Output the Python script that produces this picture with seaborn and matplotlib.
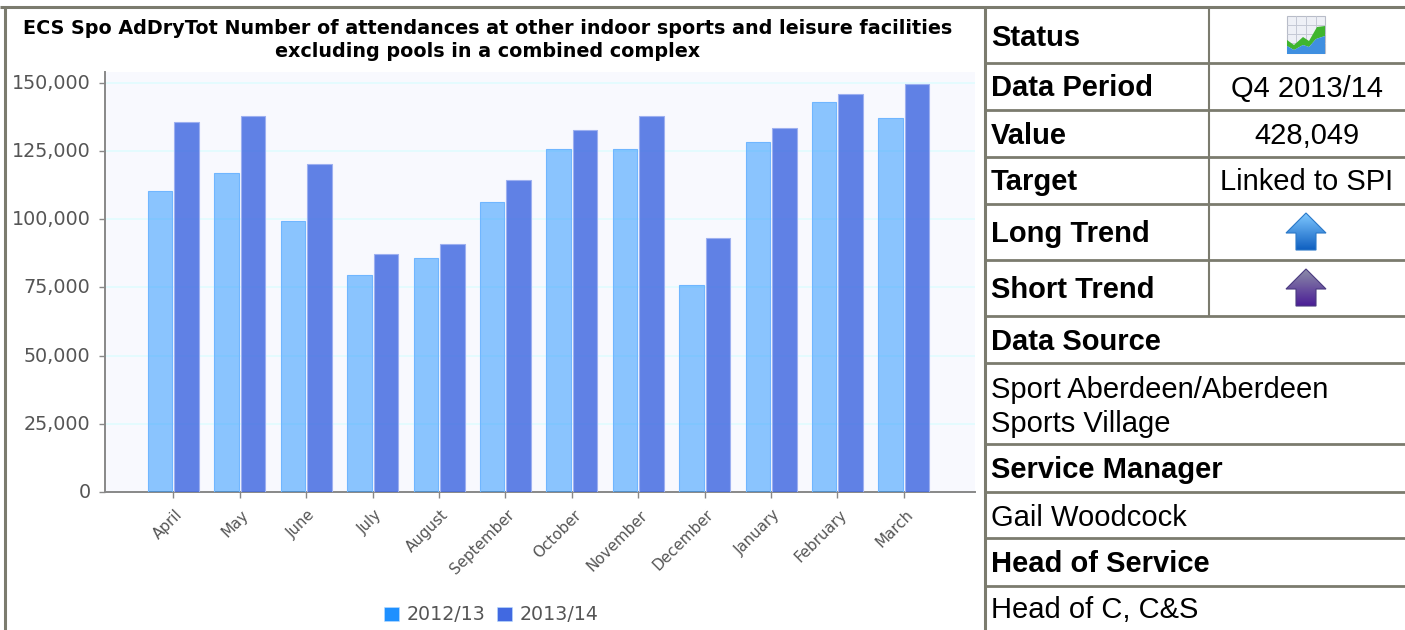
import matplotlib
matplotlib.use("Agg")
import matplotlib.pyplot as plt
from matplotlib.patches import Patch, Polygon, Rectangle
from matplotlib.transforms import ScaledTranslation
import numpy as np
import pandas as pd
import seaborn as sns

months = ["April", "May", "June", "July", "August", "September", "October",
          "November", "December", "January", "February", "March"]
values_2012 = [110500, 116800, 99200, 79600, 85800, 106400, 125900, 125900, 76000, 128200, 142900, 137000]
values_2013 = [135500, 137900, 120300, 87300, 90900, 114500, 132700, 137900, 93000, 133300, 145900, 149600]
series_names = ["2012/13", "2013/14"]
title = ("ECS Spo AdDryTot Number of attendances at other indoor sports and leisure facilities\n"
         "excluding pools in a combined complex")
y_ticks = [0, 25000, 50000, 75000, 100000, 125000, 150000]

W, H = 1405, 630
BORDER = "#7b7b6e"
sns.set_theme(style="white")
plt.rcParams["font.family"] = ["DejaVu Sans"]

fig = plt.figure(figsize=(W / 100, H / 100), dpi=100, facecolor="white")
left, right, top, bottom = 104.5, 975, 72, 492
ax = fig.add_axes([left / W, 1 - bottom / H, (right - left) / W, (bottom - top) / H])

df = pd.DataFrame({
    "month": months * 2,
    "value": values_2012 + values_2013,
    "year": [series_names[0]] * 12 + [series_names[1]] * 12,
})
palette = {series_names[0]: "#1E90FF", series_names[1]: "#4169E1"}
sns.barplot(data=df, x="month", y="value", hue="year", palette=palette, order=months,
            width=0.8, gap=0.08, saturation=1, ax=ax, legend=False, errorbar=None, zorder=3)
for c in ax.patches:
    is_first = abs(c.get_facecolor()[0] - 0.1176) < 0.01
    c.set_facecolor(matplotlib.colors.to_rgba("#1E90FF", 0.5) if is_first
                    else matplotlib.colors.to_rgba("#4169E1", 0.83))
    c.set_edgecolor("#70B6FF" if is_first else "#9DB0F0")
    c.set_linewidth(0.8)

ax.set_facecolor("#F8F9FE")
ax.set_xlim(-1.038, 12.072)
ax.set_ylim(0, 154000)
ax.set_xlabel("")
ax.set_ylabel("")
ax.set_yticks(y_ticks)
ax.set_yticklabels([f"{v:,}" for v in y_ticks], color="#555555", fontsize=13.8)
ax.set_xticks(range(12))
ax.set_xticklabels(months, rotation=45, ha="right", rotation_mode="anchor",
                   color="#555555", fontsize=10.9)
ax.tick_params(axis="y", length=4, width=1, color="#888888", pad=6, left=True)
ax.tick_params(axis="x", length=4, width=1, color="#888888", pad=7, bottom=True)
x_shift = ScaledTranslation(1.5 / 100, 0, fig.dpi_scale_trans)
for lab in ax.get_xticklabels():
    lab.set_transform(lab.get_transform() + x_shift)
y_shift = ScaledTranslation(0, 1.5 / 100, fig.dpi_scale_trans)
for lab in ax.get_yticklabels():
    lab.set_transform(lab.get_transform() + y_shift)
ax.grid(axis="y", color="#E4FCFF", linewidth=1.4, zorder=0)
ax.set_axisbelow(True)
for s in ["top", "right"]:
    ax.spines[s].set_visible(False)
for s in ["left", "bottom"]:
    ax.spines[s].set_color("#888888")
    ax.spines[s].set_linewidth(1.4)

handles = [Patch(facecolor=palette[n], edgecolor="#BBDDFF", linewidth=0.4, label=n) for n in series_names]
fig.legend(handles=handles, loc="center", bbox_to_anchor=(491 / W, 1 - 615 / H), ncol=2, frameon=False,
           fontsize=13.7, labelcolor="#555555", handlelength=0.8, handleheight=0.8,
           handletextpad=0.38, columnspacing=0.62, borderpad=0)

fig.text(487.5 / W, 1 - 40 / H, title, ha="center", va="center", fontsize=13.8, fontweight="bold",
         color="black", linespacing=1.3)

# Side table drawn on a pixel-coordinate overlay
ov = fig.add_axes([0, 0, 1, 1], facecolor="none", zorder=5)
ov.set_xlim(0, W)
ov.set_ylim(H, 0)
ov.axis("off")

h_lines = [7, 62.5, 110, 157, 204, 260, 316, 363, 444, 492, 538, 586]
ov.plot([0, W], [7, 7], color=BORDER, lw=2.2, solid_capstyle="butt")
for y in h_lines[1:]:
    ov.plot([985, W], [y, y], color=BORDER, lw=2.0, solid_capstyle="butt")
ov.plot([4.5, 4.5], [7, H], color=BORDER, lw=2.2, solid_capstyle="butt")
ov.plot([985, 985], [7, H], color=BORDER, lw=2.2, solid_capstyle="butt")
ov.plot([1208.5, 1208.5], [7, 316], color=BORDER, lw=1.5, solid_capstyle="butt")

FS = 21
bold_rows = [("Status", 37.5), ("Data Period", 88.5), ("Value", 135.5), ("Target", 182.5),
             ("Long Trend", 234.5), ("Short Trend", 290.5), ("Data Source", 341.5),
             ("Service Manager", 470.5), ("Head of Service", 564.5)]
plain_rows = [("Sport Aberdeen/Aberdeen", 389.5), ("Sports Village", 423.5),
              ("Gail Woodcock", 517.5), ("Head of C, C&S", 610.5)]
center_rows = [("Q4 2013/14", 88.5), ("428,049", 135.5), ("Linked to SPI", 182.5)]
for t, y in bold_rows:
    ov.text(991, y, t, fontsize=FS, fontweight="bold", family="Liberation Sans", va="center", color="black")
for t, y in plain_rows:
    ov.text(991, y, t, fontsize=FS, family="Liberation Sans", va="center", color="black")
for t, y in center_rows:
    ov.text(1307, y, t, fontsize=FS, family="Liberation Sans", va="center", ha="center", color="black")


def arrow(y0, top_col, bot_col, edge):
    x0 = 1306
    pts = [(x0, y0), (x0 + 20, y0 + 20), (x0 + 10, y0 + 20), (x0 + 10, y0 + 37),
           (x0 - 10, y0 + 37), (x0 - 10, y0 + 20), (x0 - 20, y0 + 20)]
    poly = Polygon(pts, closed=True, facecolor="none", edgecolor=edge, lw=0.8, zorder=3)
    ov.add_patch(poly)
    grad = np.linspace(0, 1, 64)[:, None, None]
    rgb = (1 - grad) * np.array(matplotlib.colors.to_rgb(top_col)) + grad * np.array(matplotlib.colors.to_rgb(bot_col))
    im = ov.imshow(rgb, extent=(x0 - 20, x0 + 20, y0 + 37, y0), aspect="auto", zorder=2)
    im.set_clip_path(poly)


arrow(213, "#7FC8FF", "#0F5FC0", "#2A78C8")
arrow(269, "#8C8CA8", "#4B1E96", "#4A3A80")

# Status icon
ov.add_patch(Rectangle((1287, 16), 38, 37, facecolor="#EEF0F6", edgecolor="#B8BCC8", lw=0.8, zorder=2))
for gx in (1296, 1306, 1316):
    ov.plot([gx, gx], [16, 53], color="#C4C8D4", lw=0.7, zorder=2)
for gy in (25, 34, 43):
    ov.plot([1287, 1325], [gy, gy], color="#C4C8D4", lw=0.7, zorder=2)
ov.add_patch(Polygon([(1287, 40), (1294, 45), (1303, 37), (1309, 41), (1317, 27), (1325, 26),
                      (1325, 36), (1316, 39), (1309, 47), (1303, 45), (1294, 50), (1287, 46)],
                     facecolor="#3FB52E", edgecolor="none", zorder=3))
ov.add_patch(Polygon([(1287, 46), (1294, 50), (1303, 45), (1309, 47), (1316, 39), (1325, 36),
                      (1325, 54), (1287, 54)], facecolor="#3F8FE0", edgecolor="none", zorder=3))
ov.set_xlim(0, W)
ov.set_ylim(H, 0)

fig.savefig("out.png", dpi=100)
